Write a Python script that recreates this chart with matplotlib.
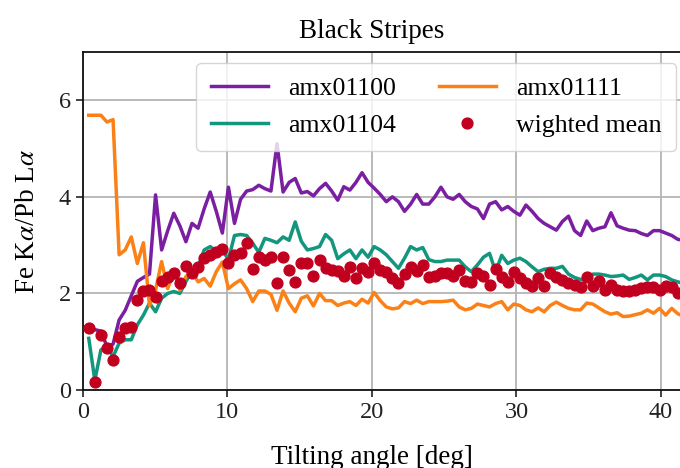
import numpy as np
import matplotlib
matplotlib.use("Agg")
import matplotlib.pyplot as plt

plt.rcParams['font.family'] = ['Liberation Serif', 'DejaVu Serif']
plt.rcParams['mathtext.fontset'] = 'stix'

# tilting angle grid [deg]
angle = np.arange(1, 100) * 0.42

amx01100 = [1.28, 1.25, 1.22, 0.90, 0.95, 1.45, 1.65, 1.95, 2.25, 2.33,
            2.40, 4.04, 2.90, 3.30, 3.66, 3.40, 3.07, 3.45, 3.35, 3.75,
            4.10, 3.70, 3.25, 4.20, 3.45, 3.95, 4.12, 4.15, 4.24, 4.17,
            4.12, 5.10, 4.10, 4.30, 4.38, 4.08, 4.11, 4.02, 4.17, 4.28,
            4.12, 3.93, 4.21, 4.14, 4.30, 4.50, 4.30, 4.18, 4.05, 3.90,
            4.00, 3.90, 3.70, 3.85, 4.05, 3.85, 3.85, 4.00, 4.20, 4.00,
            3.95, 4.05, 3.90, 3.80, 3.75, 3.55, 3.85, 3.90, 3.73, 3.80,
            3.70, 3.62, 3.83, 3.70, 3.55, 3.45, 3.38, 3.31, 3.49, 3.60,
            3.30, 3.20, 3.50, 3.30, 3.35, 3.38, 3.67, 3.40, 3.35, 3.31,
            3.30, 3.24, 3.20, 3.30, 3.30, 3.25, 3.20, 3.12, 3.10]

amx01104 = [1.07, 0.20, 0.83, 0.90, 0.69, 0.97, 1.04, 1.04, 1.35, 1.55,
            1.80, 1.62, 1.90, 2.00, 2.04, 2.00, 2.25, 2.45, 2.55, 2.90,
            2.97, 2.88, 2.90, 2.70, 3.20, 3.22, 3.20, 3.04, 2.85, 3.14,
            3.10, 3.05, 3.17, 3.10, 3.48, 3.08, 2.90, 2.93, 2.97, 3.22,
            3.10, 2.72, 2.82, 2.90, 2.72, 2.90, 2.75, 2.97, 2.90, 2.80,
            2.66, 2.52, 2.73, 2.97, 2.90, 2.95, 2.70, 2.66, 2.66, 2.69,
            2.69, 2.69, 2.55, 2.45, 2.59, 2.75, 2.83, 2.45, 2.79, 2.62,
            2.69, 2.73, 2.66, 2.55, 2.45, 2.50, 2.52, 2.52, 2.56, 2.40,
            2.33, 2.29, 2.30, 2.40, 2.40, 2.38, 2.35, 2.36, 2.38, 2.29,
            2.33, 2.38, 2.28, 2.38, 2.38, 2.35, 2.28, 2.24, 2.20]

amx01111 = [5.69, 5.69, 5.69, 5.55, 5.60, 2.80, 2.90, 3.17, 2.62, 3.05,
            1.75, 2.07, 2.66, 2.10, 2.45, 2.07, 2.35, 2.45, 2.24, 2.31,
            2.15, 2.45, 2.65, 2.10, 2.20, 2.28, 2.10, 1.83, 2.05, 2.05,
            1.98, 1.65, 2.05, 1.80, 1.62, 1.90, 1.95, 1.74, 2.00, 1.85,
            1.85, 1.75, 1.80, 1.83, 1.75, 1.88, 1.80, 2.02, 1.85, 1.72,
            1.68, 1.70, 1.83, 1.79, 1.86, 1.79, 1.83, 1.83, 1.83, 1.84,
            1.86, 1.72, 1.66, 1.69, 1.78, 1.75, 1.72, 1.79, 1.83, 1.66,
            1.78, 1.75, 1.66, 1.62, 1.70, 1.62, 1.75, 1.82, 1.75, 1.69,
            1.66, 1.66, 1.80, 1.78, 1.70, 1.62, 1.57, 1.60, 1.52, 1.53,
            1.56, 1.59, 1.66, 1.59, 1.69, 1.55, 1.69, 1.58, 1.52]

weighted_mean = [1.29, 0.17, 1.14, 0.86, 0.62, 1.09, 1.28, 1.31, 1.86, 2.04,
                 2.07, 1.93, 2.26, 2.35, 2.43, 2.21, 2.57, 2.42, 2.55, 2.73,
                 2.80, 2.86, 2.93, 2.62, 2.80, 2.83, 3.05, 2.50, 2.76, 2.69,
                 2.75, 2.21, 2.76, 2.48, 2.24, 2.62, 2.62, 2.37, 2.70, 2.52,
                 2.49, 2.46, 2.37, 2.55, 2.32, 2.52, 2.45, 2.64, 2.48, 2.45,
                 2.31, 2.21, 2.40, 2.55, 2.47, 2.59, 2.35, 2.36, 2.42, 2.43,
                 2.36, 2.48, 2.26, 2.23, 2.43, 2.36, 2.17, 2.50, 2.35, 2.24,
                 2.45, 2.31, 2.21, 2.15, 2.31, 2.15, 2.42, 2.33, 2.28, 2.22,
                 2.17, 2.13, 2.35, 2.15, 2.26, 2.08, 2.17, 2.07, 2.04, 2.06,
                 2.07, 2.11, 2.13, 2.13, 2.08, 2.15, 2.13, 2.00]

fig = plt.figure(figsize=(6.8, 4.68), dpi=100)
ax = fig.add_axes([0.1216, 0.1667, 0.893, 0.7222])

ax.plot(angle, amx01100, color='#7b1fa2', lw=2.5, label='amx01100', zorder=3)
ax.plot(angle, amx01104, color='#13967e', lw=2.5, label='amx01104', zorder=3)
ax.plot(angle, amx01111, color='#fb8016', lw=2.5, label='amx01111', zorder=3)
ax.plot(angle[:len(weighted_mean)], weighted_mean, 'o', color='#c0001e',
        ms=7.8, ls='none', label='wighted mean', zorder=4)

ax.set_xlim(0, 42)
ax.set_ylim(0, 7)
ax.set_xticks([0, 10, 20, 30, 40])
ax.set_yticks([0, 2, 4, 6])
ax.grid(True, color='#b4b4b4', lw=1.3)
ax.set_axisbelow(True)
ax.tick_params(labelsize=17.5, length=5, width=1.2, colors='#222222')
for s in ax.spines.values():
    s.set_linewidth(1.3)
    s.set_color('#111111')

fig.text(372 / 680, 1 - 31 / 468, 'Black Stripes', ha='center', va='center',
         fontsize=19.5)
fig.text(372 / 680, 1 - 457 / 468, 'Tilting angle [deg]', ha='center',
         va='center', fontsize=19.5)
fig.text(28 / 680, 1 - 222 / 468, r'Fe K$\alpha$/Pb L$\alpha$', ha='center',
         va='center', rotation=90, fontsize=19.5)

ax.legend(ncol=2, loc='upper right', bbox_to_anchor=(676 / 680, 1 - 63 / 468),
          bbox_transform=fig.transFigure, fontsize=18.6, handlelength=2.2,
          columnspacing=1.65, borderaxespad=0, framealpha=0.8,
          labelspacing=0.52, borderpad=0.55)

fig.savefig('out.png', dpi=100)
